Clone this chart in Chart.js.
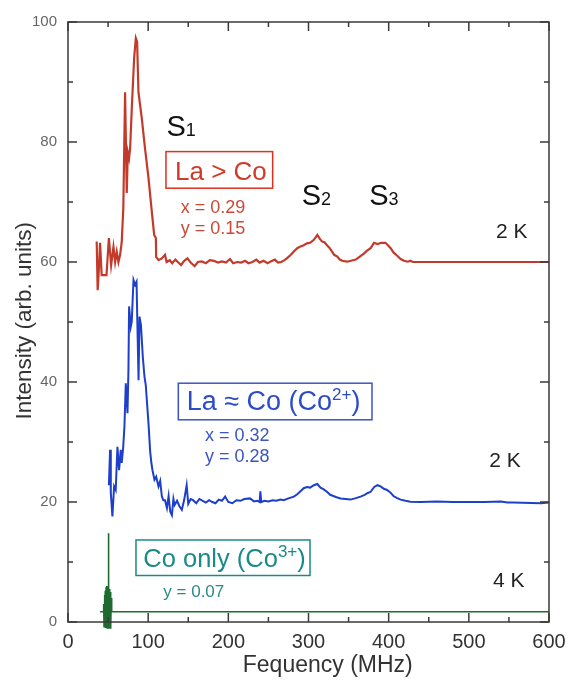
<!DOCTYPE html>
<html><head><meta charset="utf-8">
<script src="https://cdn.jsdelivr.net/npm/chart.js@4/dist/chart.umd.min.js"></script>
<style>html,body{margin:0;padding:0;background:#fff}</style>
</head><body>
<canvas id="c" width="568" height="681" style="display:block;width:568px;height:681px"></canvas>
<script>
// ---------- data ----------
const redX = [35.8,37,38.8,40,42,45,48,51,53.8,56.7,58.8,60.8,62.9,65,67,69,71.2,73.3,74.6,76.2,77.5,79.6,82.5,84.6,86.2,87.9,92,96,100.4,104.6,107.5,109.6,110,113,117,121,123,127,130,134,137,141,145,149,153,158,162,167,172,177,182,187,192,197,202,206,211,216,221,225,230,235,239,244,249,253,258,262,266,270,273,278,282,286,290,294,298,302,306.7,311,314,317,320,323,326,329,332,336,339,342,348,353,359,364,369,373,377.5,381.7,386,391,396,399,402.5,406,411,415,419,424,427,430,600];
const redY = [63.4,55.3,59.5,63.2,57.8,57.8,57.8,64,59.5,62.5,60,61.7,60,61.2,63.3,69,88.3,71.5,78.3,77.3,79,85.7,94,97.3,96.7,88.3,84,79,74,68.3,64.5,64,60.8,60.3,60.6,61.2,60,60.3,59.8,60.4,60.0,59.5,60.2,60.6,59.9,59.3,60.0,60.1,59.8,60.3,60.2,59.9,60.1,59.9,60.5,59.8,60.0,59.9,60.2,59.8,60.0,60.4,59.9,60.2,59.8,60.1,60.4,59.9,60.0,60.3,60.6,61.2,61.8,62.3,62.6,62.8,63.1,63.2,63.7,64.5,63.9,63.4,63.3,62.8,62.4,61.8,61.2,60.9,60.4,60.2,60.05,60.2,60.4,60.9,61.4,61.9,62.3,63.2,63.0,63.2,63.2,62.8,62.3,61.6,61.0,60.5,60.2,60.05,60.2,60.0,60.0];

const blueX = [51.0,52.5,53.4,55.4,57.5,59.5,61.7,63.7,65.8,67.0,68.8,70.4,72.1,74.2,75.4,76.2,78.3,79.5,81.7,83.7,85.5,86.5,88.0,89.2,91.0,93.3,95.4,97.0,100.4,102.5,104.0,105.4,107.9,110.0,112.9,115.0,117.1,119.0,121.0,123.4,125.5,127.5,129.6,131.5,133.0,136.0,139.0,142.0,145.0,148.0,150.0,153.0,156.0,160.0,164.0,168.0,172.0,176.0,180.0,184.0,188.0,192.0,196.0,200.0,205.0,210.0,215.0,220.0,227.0,232.0,236.0,239.0,240.0,241.0,245.0,250.0,255.0,260.0,265.0,269.0,275.0,281.7,286,290,294,298,302,306.7,311,315,319,323,327,331,335,340,346,352.5,358,365,370,374,377.5,382,386,390,394,398,402,406,410,415,421,427,440,460,480,500,520,540,548,555,590,600];
const blueY = [22.8,28.7,21.5,17.6,22.6,22.0,29.2,25.3,28.7,26.5,29.0,32.6,39.8,34.8,42.0,52.6,49.2,50.0,57.0,56.2,56.7,50.0,40.3,50.9,49.5,44.2,40.9,39.5,33.1,28.4,26.5,25.3,23.7,24.2,22.6,23.5,20.9,20.3,20.3,19.0,21.0,18.4,17.8,20.5,19.5,20.2,19.3,18.7,20.4,22.8,19.7,20.5,20.3,19.8,20.5,20.2,19.9,20.3,20.0,19.8,20.4,20.2,20.9,20.0,19.8,20.3,20.2,20.5,20.6,20.1,20.2,20.0,21.8,20.0,20.2,20.1,20.3,20.2,20.4,20.3,20.6,20.9,21.3,21.8,22.3,22.5,22.4,22.8,23.0,22.4,22.1,21.7,21.2,21.0,20.8,20.6,20.5,20.4,20.6,20.9,21.2,21.5,21.7,22.5,22.8,22.6,22.2,22.0,21.6,21.0,20.7,20.4,20.2,20.05,20.0,20.1,20.0,20.0,20.0,20.1,19.9,19.9,19.8,19.9];

const greenX = [40,44,44.5,45,45.5,46,46.5,47,47.5,48,48.5,49,49.5,50,50.3,50.6,51,51.5,52,52.5,53,53.5,54,54.5,600];
const greenY = [1.7,1.7,3.0,-0.8,4.5,-0.8,5.2,-1.0,5.8,-1.0,6.0,-1.0,6.0,-1.0,14.8,-1.0,5.8,-1.0,5.5,-1.0,5.0,-0.8,4.0,1.7,1.7];

const xTickValues = [0,100,200,300,400,500,600];
const yTickValues = [0,20,40,60,80,100];

const FONT = "'Liberation Sans', Arial, Helvetica, sans-serif";
const RED = '#c43a2a', BLUE = '#1e3fca', GREEN = '#1f6a2e';

const pts = (xs, ys) => xs.map((v, i) => ({x: v, y: ys[i]}));

// annotation texts (positions in data units: MHz / intensity)
const labels = [
  {x:122.9, y:81.0, color:'#111', parts:[{t:'S', s:29},{t:'1', s:18}]},
  {x:291.5, y:69.5, color:'#111', parts:[{t:'S', s:29},{t:'2', s:18}]},
  {x:375.8, y:69.5, color:'#111', parts:[{t:'S', s:29},{t:'3', s:18}]},
  {x:133.5, y:73.7, color:'#d03a28', parts:[{t:'La > Co', s:26}]},
  {x:140.6, y:68.2, color:'#c84a38', parts:[{t:'x = 0.29', s:18}]},
  {x:140.6, y:64.65, color:'#c84a38', parts:[{t:'y = 0.15', s:18}]},
  {x:533.9, y:63.95, color:'#222', parts:[{t:'2 K', s:21}]},
  {x:148.0, y:35.3, color:'#2a4cc8', parts:[{t:'La ≈ Co (Co', s:27},{t:'2+', s:17, up:10},{t:')', s:27}]},
  {x:170.9, y:30.2, color:'#3a55c0', parts:[{t:'x = 0.32', s:18}]},
  {x:170.9, y:26.7, color:'#3a55c0', parts:[{t:'y = 0.28', s:18}]},
  {x:525.5, y:25.9, color:'#222', parts:[{t:'2 K', s:21}]},
  {x:93.9, y:9.2, color:'#1a8a88', parts:[{t:'Co only (Co', s:25.5},{t:'3+', s:17, up:10},{t:')', s:25.5}]},
  {x:118.9, y:4.2, color:'#2a8a88', parts:[{t:'y = 0.07', s:17}]},
  {x:530.0, y:5.8, color:'#222', parts:[{t:'4 K', s:21}]}
];
const boxes = [
  {x1:122.2, y1:78.4, x2:255.3, y2:72.3, color:'#e0301e'},
  {x1:137.6, y1:39.8, x2:379.2, y2:33.7, color:'#3a55c0'},
  {x1:84.8, y1:13.67, x2:301.9, y2:7.75, color:'#1a8a88'}
];
// axis titles: x title starts at 218 MHz, y title centred at 50 units
const xTitle = {text: 'Fequency (MHz)', startValue: 218, size: 23};
const yTitle = {text: 'Intensity (arb. units)', centerValue: 50.2, size: 22.5};

const decor = {
  id: 'decor',
  afterDatasetsDraw(chart) {
    const {ctx, chartArea: a, scales: {x, y}} = chart;
    ctx.save();
    // frame
    ctx.strokeStyle = '#3a3a3a'; ctx.lineWidth = 1.5;
    ctx.strokeRect(a.left, a.top, a.right - a.left, a.bottom - a.top);
    const line = (x1, y1, x2, y2) => { ctx.beginPath(); ctx.moveTo(x1, y1); ctx.lineTo(x2, y2); ctx.stroke(); };
    for (let v = 0; v <= 600; v += 50) {
      const px = x.getPixelForValue(v), len = (v % 100 === 0) ? 9 : 5;
      line(px, a.bottom, px, a.bottom - len);
      line(px, a.top, px, a.top + len);
    }
    for (let v = 0; v <= 100; v += 10) {
      const py = y.getPixelForValue(v), len = (v % 20 === 0) ? 9 : 5;
      line(a.left, py, a.left + len, py);
      line(a.right, py, a.right - len, py);
    }
    // boxes
    boxes.forEach(b => {
      ctx.strokeStyle = b.color; ctx.lineWidth = 1.5;
      const x1 = x.getPixelForValue(b.x1), x2 = x.getPixelForValue(b.x2);
      const y1 = y.getPixelForValue(b.y1), y2 = y.getPixelForValue(b.y2);
      ctx.strokeRect(x1, y1, x2 - x1, y2 - y1);
    });
    // texts
    ctx.textBaseline = 'alphabetic'; ctx.textAlign = 'left';
    labels.forEach(l => {
      let px = x.getPixelForValue(l.x);
      const py = y.getPixelForValue(l.y);
      ctx.fillStyle = l.color;
      l.parts.forEach(p => {
        ctx.font = p.s + 'px ' + FONT;
        ctx.fillText(p.t, px, py - (p.up || 0));
        px += ctx.measureText(p.t).width;
      });
    });
    // axis titles
    ctx.fillStyle = '#333';
    ctx.font = xTitle.size + 'px ' + FONT;
    ctx.fillText(xTitle.text, x.getPixelForValue(xTitle.startValue), x.bottom - 9);
    ctx.font = yTitle.size + 'px ' + FONT;
    ctx.translate(y.left + 31, y.getPixelForValue(yTitle.centerValue));
    ctx.rotate(-Math.PI / 2);
    ctx.textAlign = 'center';
    ctx.fillText(yTitle.text, 0, 0);
    ctx.restore();
  }
};

new Chart(document.getElementById('c'), {
  type: 'line',
  data: {
    datasets: [
      {data: pts(redX, redY), borderColor: RED, borderWidth: 2.2},
      {data: pts(blueX, blueY), borderColor: BLUE, borderWidth: 2},
      {data: pts(greenX, greenY), borderColor: GREEN, borderWidth: 1.6, clip: false}
    ]
  },
  options: {
    responsive: false, animation: false, devicePixelRatio: 1,
    layout: {padding: {top: 22, right: 19, left: 0, bottom: 0}},
    elements: {point: {radius: 0}, line: {tension: 0}},
    plugins: {legend: {display: false}, tooltip: {enabled: false}},
    scales: {
      x: {
        type: 'linear', min: 0, max: 600,
        afterBuildTicks: s => { s.ticks = xTickValues.map(v => ({value: v})); },
        ticks: {font: {size: 20, family: FONT}, color: '#333', padding: 8, maxRotation: 0},
        grid: {display: false, drawTicks: false}, border: {display: false},
        title: {display: false},
        afterFit: s => { s.height = 59; s.paddingLeft = 0; s.paddingRight = 0; }
      },
      y: {
        type: 'linear', min: 0, max: 100,
        afterBuildTicks: s => { s.ticks = yTickValues.map(v => ({value: v})); },
        ticks: {font: {size: 15, family: FONT}, color: '#666', padding: 11},
        grid: {display: false, drawTicks: false}, border: {display: false},
        title: {display: false},
        afterFit: s => { s.width = 68; s.paddingTop = 0; s.paddingBottom = 0; }
      }
    }
  },
  plugins: [decor]
});
</script>
</body></html>
